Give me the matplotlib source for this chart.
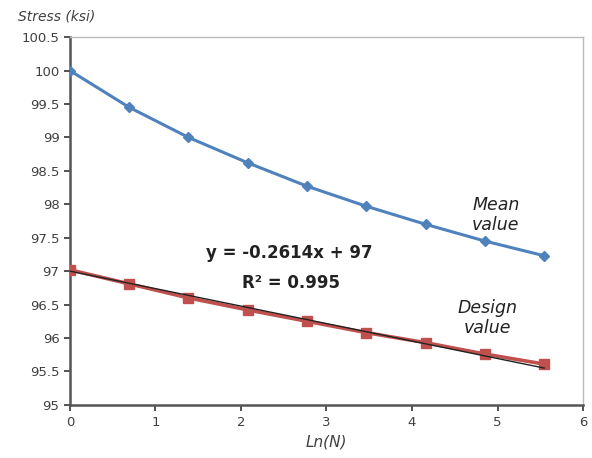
import numpy as np
import matplotlib
matplotlib.use("Agg")
import matplotlib.pyplot as plt

ln_n = [0.0, 0.693, 1.386, 2.079, 2.773, 3.466, 4.159, 4.852, 5.545]
mean_value = [100.0, 99.45, 99.0, 98.62, 98.27, 97.97, 97.70, 97.45, 97.23]
design_value = [97.02, 96.81, 96.60, 96.42, 96.25, 96.08, 95.93, 95.76, 95.61]
trend_slope = -0.2614
trend_intercept = 97.0
x_ticks = [0, 1, 2, 3, 4, 5, 6]
y_ticks = [95, 95.5, 96, 96.5, 97, 97.5, 98, 98.5, 99, 99.5, 100, 100.5]
y_tick_labels = ["95", "95.5", "96", "96.5", "97", "97.5", "98", "98.5", "99", "99.5", "100", "100.5"]

plt.rcParams['font.family'] = ['DejaVu Sans']
fig = plt.figure(figsize=(5.92, 4.58), dpi=100)
ax = fig.add_axes([0.118, 0.116, 0.867, 0.803])

blue = '#4F81BD'
red = '#C0504D'
ax.plot(ln_n, mean_value, color=blue, lw=2.2, marker='D', ms=5, zorder=3)
ax.plot(ln_n, design_value, color=red, lw=2.6, marker='s', ms=6.5, zorder=3)
xt = np.array([ln_n[0], ln_n[-1]])
ax.plot(xt, trend_slope * xt + trend_intercept, color='#222222', lw=1.0, zorder=4)

ax.set_xlim(0, 6)
ax.set_ylim(95, 100.5)
ax.set_xticks(x_ticks)
ax.set_yticks(y_ticks)
ax.set_yticklabels(y_tick_labels)
ax.tick_params(direction='out', length=4, width=1.2, colors='#333333', labelsize=9.5,
               labelcolor='#404040')
ax.tick_params(axis='x', pad=4)
for s in ['left', 'bottom']:
    ax.spines[s].set_color('#555555')
    ax.spines[s].set_linewidth(1.8)
for s in ['top', 'right']:
    ax.spines[s].set_color('#BBBBBB')
    ax.spines[s].set_linewidth(1.0)

fig.text(0.03, 0.965, 'Stress (ksi)', style='italic', fontsize=10, color='#404040', va='center')
ax.set_xlabel('Ln(N)', style='italic', fontsize=11, color='#404040', labelpad=4)

ax.text(2.56, 97.27, f'y = {trend_slope}x + {trend_intercept:g}', ha='center', va='center',
        fontsize=12, fontweight='bold', color='#222222')
ax.text(2.58, 96.82, 'R² = 0.995', ha='center', va='center',
        fontsize=12, fontweight='bold', color='#222222')
ax.text(4.98, 97.84, 'Mean\nvalue', style='italic', ha='center', va='center', fontsize=12.5,
        color='#222222', linespacing=1.1)
ax.text(4.88, 96.3, 'Design\nvalue', style='italic', ha='center', va='center', fontsize=12.5,
        color='#222222', linespacing=1.1)

fig.savefig('out.png', dpi=100)
